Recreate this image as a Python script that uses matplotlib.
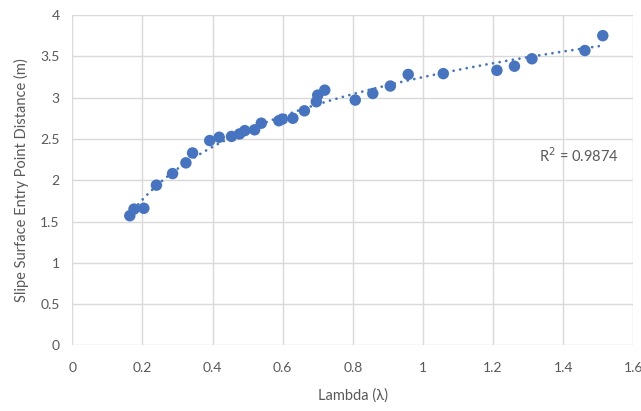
import numpy as np
import matplotlib
matplotlib.use("Agg")
import matplotlib.pyplot as plt
from matplotlib.ticker import FuncFormatter, MultipleLocator

# Data
lam = [0.164, 0.176, 0.204, 0.240, 0.286, 0.324, 0.343, 0.392, 0.419, 0.454,
       0.477, 0.492, 0.520, 0.539, 0.589, 0.599, 0.629, 0.662, 0.696, 0.700,
       0.720, 0.807, 0.857, 0.907, 0.958, 1.058, 1.211, 1.261, 1.311, 1.462,
       1.513]
dist = [1.57, 1.65, 1.66, 1.94, 2.08, 2.21, 2.33, 2.48, 2.52, 2.53,
        2.56, 2.60, 2.61, 2.69, 2.72, 2.74, 2.75, 2.84, 2.95, 3.03,
        3.09, 2.97, 3.05, 3.14, 3.28, 3.29, 3.33, 3.38, 3.47, 3.57,
        3.75]
r2_label = "R$^2$ = 0.9874"

BLUE = "#4674C1"
GRID = "#D9D9D9"
TEXT = "#595959"

plt.rcParams["font.family"] = ["Lato", "DejaVu Sans"]

x = np.array(lam)
y = np.array(dist)

# logarithmic trendline, as Excel draws it
b, a = np.polyfit(np.log(x), y, 1)
xt = np.linspace(x.min(), x.max(), 200)
yt = a + b * np.log(xt)

fig = plt.figure(figsize=(6.41, 4.11), dpi=100, facecolor="white")
ax = fig.add_axes([72.3 / 641, 65.6 / 411, (633.3 - 72.3) / 641, (345.4 - 15) / 411])

ax.plot(xt, yt, color=BLUE, lw=2.0, linestyle=(0, (0.01, 2.4)),
        dash_capstyle="round", zorder=2)
ax.scatter(x, y, s=68, color=BLUE, edgecolors="none", zorder=3)

ax.set_xlim(0, 1.6)
ax.set_ylim(0, 4)
ax.xaxis.set_major_locator(MultipleLocator(0.2))
ax.yaxis.set_major_locator(MultipleLocator(0.5))
fmt = FuncFormatter(lambda v, pos: f"{v:g}")
ax.xaxis.set_major_formatter(fmt)
ax.yaxis.set_major_formatter(fmt)

ax.grid(True, color=GRID, lw=1.0)
ax.set_axisbelow(True)
for s in ax.spines.values():
    s.set_visible(False)
ax.tick_params(length=0, colors=TEXT, labelsize=10, pad=9)
ax.tick_params(axis="x", pad=12)

ax.set_xlabel("Lambda (λ)", color=TEXT, fontsize=10.5, labelpad=10)
ax.set_ylabel("Slipe Surface Entry Point Distance (m)", color=TEXT,
              fontsize=10.5, labelpad=8)

ax.text(1.332, 2.30, r2_label, color=TEXT, fontsize=10.5,
        ha="left", va="center")

fig.savefig("out.png", dpi=100, facecolor="white")
